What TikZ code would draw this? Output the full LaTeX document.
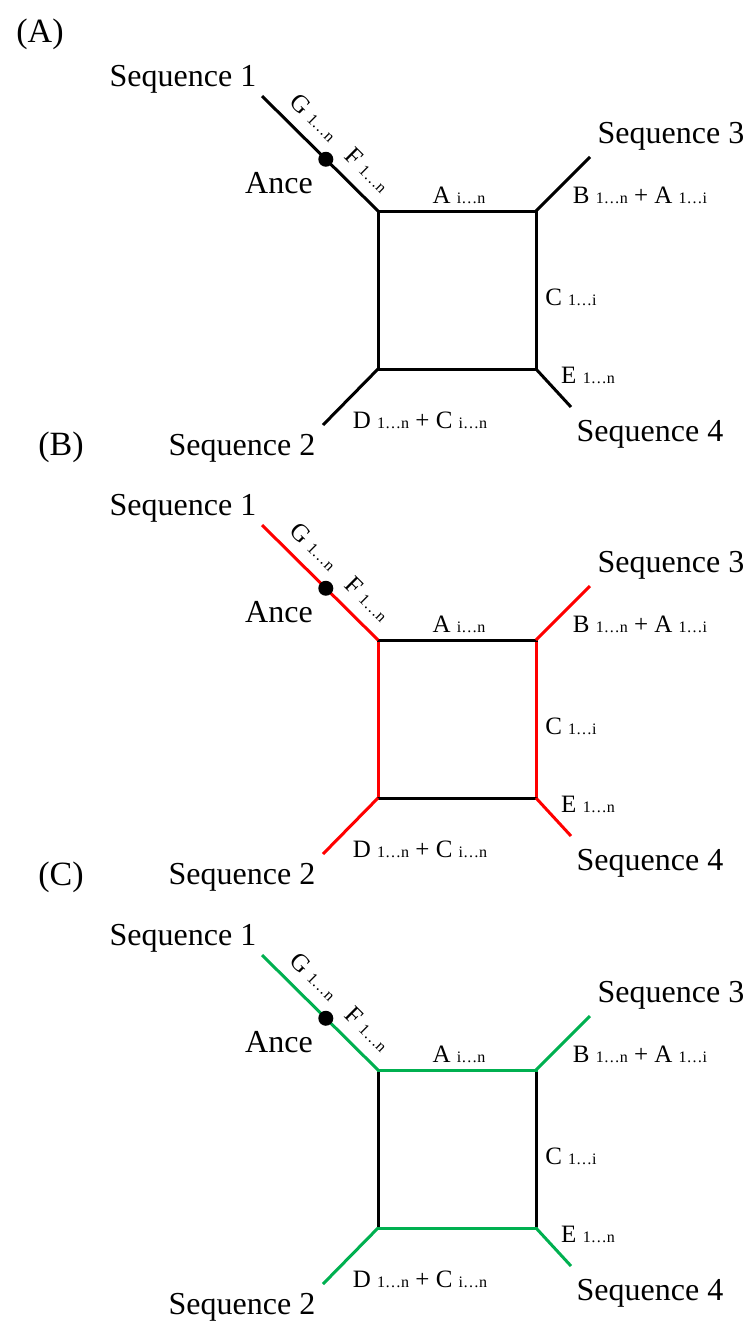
\documentclass[tikz,border=0pt]{standalone}
\usepackage{fontspec}
\setmainfont{Liberation Serif}
\usetikzlibrary{positioning}
\definecolor{leafgreen}{RGB}{0,176,80}
\newcommand\rng[1]{{\fontsize{16}{18}\selectfont #1}}

\begin{document}
\begin{tikzpicture}[x=1pt, y=-1pt, line width=3pt,
  seqlbl/.style={font=\fontsize{32}{38}\selectfont, inner sep=0pt, anchor=base},
  edgelbl/.style={font=\fontsize{25}{30}\selectfont, inner sep=0pt, anchor=base},
  branchlbl/.style={font=\fontsize{25}{30}\selectfont, text=black, inner sep=0pt, sloped, above=12pt},
  dotnode/.style={circle, fill=black, inner sep=0pt, minimum size=15pt}]
  \useasboundingbox (0,0) rectangle (749,1323);
  \foreach \p/\dy/\tx/\ty/\lc/\vc/\hc in {A/0/40/42/black/black/black,
      B/429/61/455/red/red/black, C/859/61/885/leafgreen/black/leafgreen}{
    \node[seqlbl, font=\fontsize{34}{40}\selectfont] (panel\p) at (\tx,\ty) {(\p)};
    \begin{scope}[shift={(0,\dy)}]
      % corners of the box and ends of the leaves
      \coordinate (tl\p) at (378,211);
      \coordinate (tr\p) at (536,211);
      \coordinate (br\p) at (536,369);
      \coordinate (bl\p) at (378,369);
      \coordinate (s1\p) at (262,96);
      \coordinate (s3\p) at (590,157);
      \coordinate (s4\p) at (571,407);
      \coordinate (s2\p) at (323,425);
      \draw[color=\vc] (tl\p) -- (bl\p);
      \draw[color=\vc] (tr\p) -- (br\p);
      \draw[color=\hc, line cap=rect] (tl\p) -- (tr\p);
      \draw[color=\hc, line cap=rect] (bl\p) -- (br\p);
      \draw[color=\lc] (tr\p) -- (s3\p);
      \draw[color=\lc] (br\p) -- (s4\p);
      \draw[color=\lc] (bl\p) -- (s2\p);
      \draw[color=\lc] (s1\p) -- node[branchlbl, pos=0.32] (g\p) {G \rng{1…n}}
        node[dotnode, pos=0.55] (anc\p) {}
        node[branchlbl, pos=0.78] (f\p) {F \rng{1…n}} (tl\p);
      % labels
      \node[seqlbl] (seq1\p) at (183,86) {Sequence 1};
      \node[seqlbl] (seq3\p) at (671,143) {Sequence 3};
      \node[seqlbl] (seq2\p) at (242,455) {Sequence 2};
      \node[seqlbl] (seq4\p) at (650,441) {Sequence 4};
      \node[seqlbl] (ance\p) at (279,193) {Ance};
      \node[edgelbl] (a\p) at (459,203) {A \rng{i…n}};
      \node[edgelbl] (b\p) at (640,203) {B \rng{1…n} + A \rng{1…i}};
      \node[edgelbl] (c\p) at (571,305) {C \rng{1…i}};
      \node[edgelbl] (e\p) at (588,383) {E \rng{1…n}};
      \node[edgelbl] (d\p) at (420,428) {D \rng{1…n} + C \rng{i…n}};
    \end{scope}
  }
\end{tikzpicture}
\end{document}
